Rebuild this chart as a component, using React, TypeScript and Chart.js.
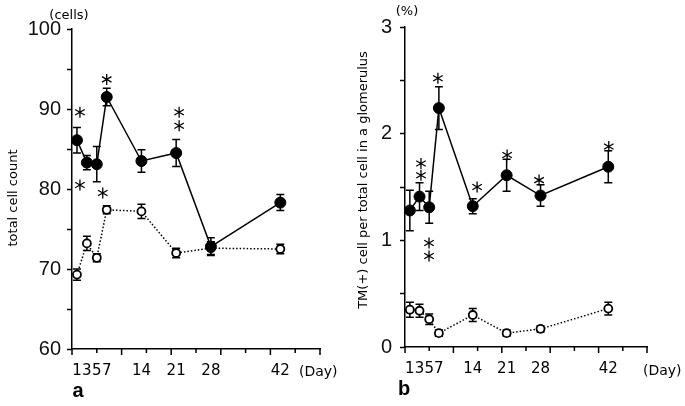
import React, { useEffect, useRef } from "react";
import { Chart, registerables } from "chart.js";

Chart.register(...registerables);

// ---- data ----
const days = [1, 3, 5, 7, 14, 21, 28, 42];
const dayTickLabels = [1, 3, 5, 7, 14, 21, 28, 42];
const dayTickMarks = [0, 5, 10, 15, 20, 25, 30, 35, 40, 45, 50];

const cellNephritis = [86.1, 83.3, 83.1, 91.5, 83.5, 84.5, 72.8, 78.3];
const cellNephritisErr = [1.6, 0.9, 2.2, 1.1, 1.4, 1.7, 1.1, 1.0];
const cellControl = [69.3, 73.2, 71.4, 77.4, 77.2, 72.0, 72.6, 72.5];
const cellControlErr = [0.7, 0.9, 0.5, 0.5, 0.9, 0.6, 0.8, 0.6];
const cellYTicks = [60, 65, 70, 75, 80, 85, 90, 95, 100];
const cellYLabels = [60, 70, 80, 90, 100];
const cellStars = [
  [1.6, 89.6],
  [1.6, 80.5],
  [6.2, 79.5],
  [7.0, 93.7],
  [21.6, 89.6],
  [21.6, 87.9],
];

const tmNephritis = [1.28, 1.41, 1.31, 2.24, 1.32, 1.61, 1.42, 1.69];
const tmNephritisErr = [0.19, 0.13, 0.15, 0.2, 0.07, 0.15, 0.1, 0.15];
const tmControl = [0.35, 0.34, 0.26, 0.13, 0.3, 0.13, 0.17, 0.36];
const tmControlErr = [0.07, 0.06, 0.05, 0.03, 0.06, 0.03, 0.03, 0.06];
const tmYTicks = [0, 0.5, 1, 1.5, 2, 2.5, 3];
const tmYLabels = [0, 1, 2, 3];
const tmStars = [
  [3.3, 1.72],
  [3.3, 1.61],
  [4.96, 0.975],
  [4.96, 0.853],
  [6.8, 2.52],
  [14.9, 1.5],
  [21.1, 1.8],
  [27.7, 1.565],
  [42.1, 1.88],
];

type TextItem = {
  text: string;
  x: number;
  y: number;
  font: string;
  align?: CanvasTextAlign;
  rotate?: boolean;
};

type PanelCfg = {
  yMin: number;
  yMax: number;
  yTicks: number[];
  yLabels: number[];
  filled: number[];
  filledErr: number[];
  open: number[];
  openErr: number[];
  stars: number[][];
  axisW: number;
  axisH: number;
  padTop: number;
  padRight: number;
  yLabelPad: number;
  texts: TextItem[];
};

function drawStar(ctx: CanvasRenderingContext2D, cx: number, cy: number, r: number) {
  ctx.beginPath();
  for (let k = 0; k < 3; k++) {
    const a = Math.PI / 2 + (k * Math.PI) / 3;
    ctx.moveTo(cx - r * Math.cos(a), cy - r * Math.sin(a));
    ctx.lineTo(cx + r * Math.cos(a), cy + r * Math.sin(a));
  }
  ctx.stroke();
}

function makePlugin(cfg: PanelCfg) {
  return {
    id: "extras",
    beforeDatasetsDraw(chart: any) {
      const { ctx } = chart;
      const x = chart.scales.x;
      const y = chart.scales.y;
      ctx.save();
      ctx.strokeStyle = "#000";
      ctx.lineWidth = 1.5;
      const series = [
        { v: cfg.filled, e: cfg.filledErr },
        { v: cfg.open, e: cfg.openErr },
      ];
      series.forEach((s) => {
        s.v.forEach((val, i) => {
          const px = x.getPixelForValue(days[i]);
          const top = y.getPixelForValue(val + s.e[i]);
          const bot = y.getPixelForValue(val - s.e[i]);
          ctx.beginPath();
          ctx.moveTo(px, top);
          ctx.lineTo(px, bot);
          ctx.moveTo(px - 4, top);
          ctx.lineTo(px + 4, top);
          ctx.moveTo(px - 4, bot);
          ctx.lineTo(px + 4, bot);
          ctx.stroke();
        });
      });
      ctx.restore();
    },
    afterDraw(chart: any) {
      const { ctx, chartArea } = chart;
      const x = chart.scales.x;
      const y = chart.scales.y;
      ctx.save();
      ctx.strokeStyle = "#000";
      ctx.lineWidth = 1.5;
      // x tick marks
      dayTickMarks.forEach((d) => {
        const px = x.getPixelForValue(d);
        const len = d % 10 === 0 ? 6 : 4;
        ctx.beginPath();
        ctx.moveTo(px, chartArea.bottom);
        ctx.lineTo(px, chartArea.bottom + len);
        ctx.stroke();
      });
      // asterisks
      ctx.lineWidth = 1.3;
      cfg.stars.forEach(([sx, sy]) => {
        drawStar(ctx, x.getPixelForValue(sx), y.getPixelForValue(sy), 5.5);
      });
      // texts
      ctx.fillStyle = "#000";
      cfg.texts.forEach((t) => {
        ctx.save();
        ctx.font = t.font;
        ctx.textAlign = t.align || "center";
        ctx.textBaseline = "middle";
        ctx.translate(t.x, t.y);
        if (t.rotate) ctx.rotate(-Math.PI / 2);
        ctx.fillText(t.text, 0, 0);
        ctx.restore();
      });
      ctx.restore();
    },
  };
}

function buildChart(canvas: HTMLCanvasElement, cfg: PanelCfg) {
  return new Chart(canvas, {
    type: "line",
    data: {
      datasets: [
        {
          data: days.map((d, i) => ({ x: d, y: cfg.filled[i] })),
          borderColor: "#000",
          borderWidth: 1.5,
          pointRadius: 5.5,
          pointBackgroundColor: "#000",
          pointBorderColor: "#000",
          pointBorderWidth: 1,
          tension: 0,
        },
        {
          data: days.map((d, i) => ({ x: d, y: cfg.open[i] })),
          borderColor: "#000",
          borderWidth: 1.5,
          borderDash: [1.5, 2],
          pointRadius: 4,
          pointBackgroundColor: "#fff",
          pointBorderColor: "#000",
          pointBorderWidth: 1.8,
          tension: 0,
        },
      ],
    },
    options: {
      responsive: false,
      animation: false,
      devicePixelRatio: 1,
      layout: { padding: { left: 0, bottom: 0, top: cfg.padTop, right: cfg.padRight } },
      plugins: {
        legend: { display: false },
        tooltip: { enabled: false },
      },
      scales: {
        x: {
          type: "linear",
          min: 0,
          max: 50,
          afterBuildTicks: (scale: any) => {
            scale.ticks = dayTickLabels.map((v) => ({ value: v }));
          },
          afterFit: (scale: any) => {
            scale.height = cfg.axisH;
          },
          grid: { display: true, drawOnChartArea: false, drawTicks: false },
          border: { display: true, color: "#000", width: 1.5 },
          ticks: {
            autoSkip: false,
            maxRotation: 0,
            padding: 13,
            color: "#000",
            font: { family: "DejaVu Sans", size: 15 },
            callback: (v: any) => String(v),
          },
        },
        y: {
          type: "linear",
          min: cfg.yMin,
          max: cfg.yMax,
          afterBuildTicks: (scale: any) => {
            scale.ticks = cfg.yTicks.map((v) => ({ value: v }));
          },
          afterFit: (scale: any) => {
            scale.width = cfg.axisW;
          },
          grid: {
            display: true,
            drawOnChartArea: false,
            drawTicks: true,
            tickLength: 5,
            tickColor: "#000",
            tickWidth: 1.5,
          },
          border: { display: true, color: "#000", width: 1.5 },
          ticks: {
            autoSkip: false,
            padding: cfg.yLabelPad,
            color: "#111",
            font: { family: "Liberation Sans", size: 20 },
            callback: (v: any) => (cfg.yLabels.includes(v) ? String(v) : ""),
          },
        },
      },
    },
    plugins: [makePlugin(cfg) as any],
  });
}

const panelA: PanelCfg = {
  yMin: 60,
  yMax: 100,
  yTicks: cellYTicks,
  yLabels: cellYLabels,
  filled: cellNephritis,
  filledErr: cellNephritisErr,
  open: cellControl,
  openErr: cellControlErr,
  stars: cellStars,
  axisW: 72,
  axisH: 57,
  padTop: 29,
  padRight: 20,
  yLabelPad: 6,
  texts: [
    { text: "(cells)", x: 69, y: 16, font: "13px DejaVu Sans" },
    { text: "(Day)", x: 299, y: 372, font: "14px DejaVu Sans", align: "left" },
    { text: "a", x: 78, y: 391, font: "bold 20px Liberation Sans" },
    { text: "total cell count", x: 14, y: 198, font: "13px DejaVu Sans", rotate: true },
  ],
};

const panelB: PanelCfg = {
  yMin: 0,
  yMax: 3,
  yTicks: tmYTicks,
  yLabels: tmYLabels,
  filled: tmNephritis,
  filledErr: tmNephritisErr,
  open: tmControl,
  openErr: tmControlErr,
  stars: tmStars,
  axisW: 65,
  axisH: 59,
  padTop: 27,
  padRight: 38,
  yLabelPad: 8,
  texts: [
    { text: "(%)", x: 67, y: 12, font: "13px DejaVu Sans" },
    { text: "(Day)", x: 303, y: 371, font: "14px DejaVu Sans", align: "left" },
    { text: "b", x: 64, y: 389, font: "bold 20px Liberation Sans" },
    {
      text: "TM(+) cell per total cell in a glomerulus",
      x: 24,
      y: 180,
      font: "13px DejaVu Sans",
      rotate: true,
    },
  ],
};

export default function App() {
  const refA = useRef<HTMLCanvasElement>(null);
  const refB = useRef<HTMLCanvasElement>(null);

  useEffect(() => {
    const a = buildChart(refA.current!, panelA);
    const b = buildChart(refB.current!, panelB);
    return () => {
      a.destroy();
      b.destroy();
    };
  }, []);

  return (
    <div
      style={{
        position: "fixed",
        left: 0,
        top: 0,
        width: 685,
        height: 406,
        background: "#fff",
      }}
    >
      <canvas
        ref={refA}
        width={340}
        height={406}
        style={{ position: "absolute", left: 0, top: 0, width: 340, height: 406 }}
      />
      <canvas
        ref={refB}
        width={345}
        height={406}
        style={{ position: "absolute", left: 340, top: 0, width: 345, height: 406 }}
      />
    </div>
  );
}
